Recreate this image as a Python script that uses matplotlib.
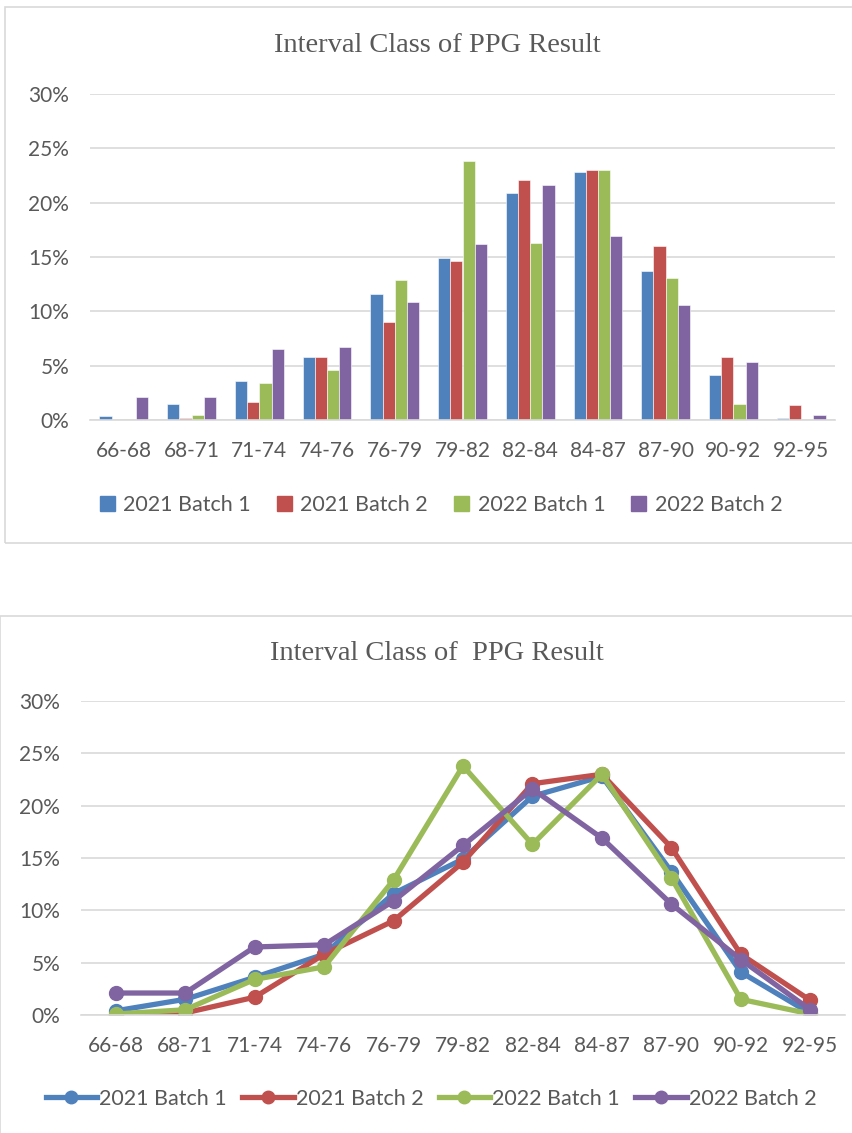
import matplotlib.pyplot as plt
from matplotlib.patches import Rectangle
from matplotlib.lines import Line2D
from matplotlib.ticker import PercentFormatter
import numpy as np

classes = ["66-68", "68-71", "71-74", "74-76", "76-79", "79-82",
           "82-84", "84-87", "87-90", "90-92", "92-95"]
b21_1 = [0.4, 1.5, 3.6, 5.8, 11.6, 14.9, 20.9, 22.8, 13.7, 4.1, 0.15]
b21_2 = [0.0, 0.2, 1.7, 5.8, 9.0, 14.6, 22.1, 23.0, 16.0, 5.8, 1.4]
b22_1 = [0.1, 0.5, 3.4, 4.6, 12.9, 23.8, 16.3, 23.0, 13.1, 1.5, 0.1]
b22_2 = [2.1, 2.1, 6.5, 6.7, 10.9, 16.2, 21.6, 16.9, 10.6, 5.3, 0.5]
series = ["2021 Batch 1", "2021 Batch 2", "2022 Batch 1", "2022 Batch 2"]
colors = ["#4F81BD", "#C0504D", "#9BBB59", "#8064A2"]
data = [b21_1, b21_2, b22_1, b22_2]

W, H = 853, 1133
fig = plt.figure(figsize=(W / 100, H / 100), dpi=100)
txt = "#595959"
sans = "Lato"


def px(l, t, r, b):
    return [l / W, 1 - b / H, (r - l) / W, (b - t) / H]


# chart frames
fig.patches.append(Rectangle((5 / W, 1 - 543 / H), 860 / W, 536 / H,
                             transform=fig.transFigure, fill=False,
                             ec="#D9D9D9", lw=1.2))
fig.patches.append(Rectangle((0.5 / W, 1 - 1140 / H), 860 / W, 524 / H,
                             transform=fig.transFigure, fill=False,
                             ec="#D9D9D9", lw=1.2))


def style(ax, ypad):
    ax.set_ylim(0, 30)
    ax.set_yticks(np.arange(0, 31, 5))
    ax.yaxis.set_major_formatter(PercentFormatter(decimals=0))
    ax.grid(axis="y", color="#D9D9D9", lw=1.2)
    ax.set_axisbelow(True)
    for s in ["top", "right", "left"]:
        ax.spines[s].set_visible(False)
    ax.spines["bottom"].set_color("#D9D9D9")
    ax.spines["bottom"].set_linewidth(1.2)
    ax.tick_params(length=0, labelsize=15, labelcolor=txt)
    ax.tick_params(axis="x", pad=15)
    ax.tick_params(axis="y", pad=ypad)
    for lab in ax.get_xticklabels() + ax.get_yticklabels():
        lab.set_fontfamily(sans)
    ax.set_xlim(-0.5, len(classes) - 0.5)
    ax.set_xticks(range(len(classes)))
    ax.set_xticklabels(classes, fontfamily=sans)


# bar chart
ax1 = fig.add_axes(px(90, 94, 835, 420))
x = np.arange(len(classes))
bw = 0.18
for i, (d, c) in enumerate(zip(data, colors)):
    ax1.bar(x + (i - 1.5) * bw, d, bw, color=c, label=series[i],
            edgecolor="white", linewidth=0.4)
style(ax1, 15)
fig.text(437 / W, 1 - 45 / H, "Interval Class of PPG Result", ha="center",
         va="center", fontsize=20.5, family="Liberation Serif", color=txt)
h = [Rectangle((0, 0), 1, 1, color=c) for c in colors]
fig.legend(h, series, loc="center", bbox_to_anchor=(441 / W, 1 - 505 / H),
           ncol=4, frameon=False, prop={"family": sans, "size": 15.5},
           labelcolor=txt, handlelength=0.7, handleheight=0.7,
           handletextpad=0.4, columnspacing=1.2)

# line chart
ax2 = fig.add_axes(px(81, 701, 845, 1015))
for d, c, s in zip(data, colors, series):
    ax2.plot(x, d, color=c, lw=3.8, marker="o", ms=10, label=s)
style(ax2, 15)
fig.text(437 / W, 1 - 653 / H, "Interval Class of  PPG Result", ha="center",
         va="center", fontsize=20.5, family="Liberation Serif", color=txt)
h2 = [Line2D([], [], color=c, lw=3.8, marker="o", ms=9) for c in colors]
fig.legend(h2, series, loc="center", bbox_to_anchor=(431 / W, 1 - 1099 / H),
           ncol=4, frameon=False, prop={"family": sans, "size": 15.5},
           labelcolor=txt, handlelength=2.4, handletextpad=0.1,
           columnspacing=0.7)

fig.savefig("out.png", dpi=100)
